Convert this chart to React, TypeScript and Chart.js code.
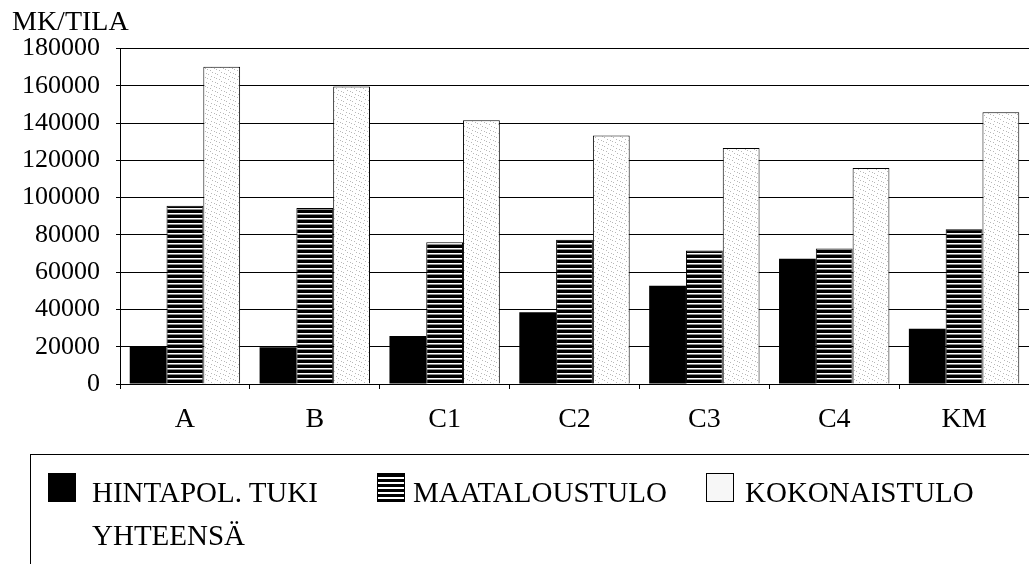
import React, { useEffect, useRef } from 'react';
import { Chart, registerables } from 'chart.js';

Chart.register(...registerables);

const categories = ['A', 'B', 'C1', 'C2', 'C3', 'C4', 'KM'];
const hintapolTuki = [19900, 19700, 25800, 38500, 52700, 67200, 29600];
const maataloustulo = [95600, 94400, 76100, 77400, 71600, 72700, 83100];
const kokonaistulo = [170300, 159600, 141500, 133400, 126600, 115900, 145800];
const yMin = 0;
const yMax = 180000;
const yStep = 20000;
const unitTitle = 'MK/TILA';
const seriesNames = ['HINTAPOL. TUKI YHTEENSÄ', 'MAATALOUSTULO', 'KOKONAISTULO'];

const FONT = '"Liberation Serif", "Times New Roman", Times, serif';

function makeStripes(): CanvasPattern | string {
  const c = document.createElement('canvas');
  c.width = 8;
  c.height = 5;
  const ctx = c.getContext('2d');
  if (!ctx) return '#333';
  ctx.fillStyle = '#000';
  ctx.fillRect(0, 0, 8, 5);
  ctx.fillStyle = '#fff';
  ctx.fillRect(0, 3, 8, 1);
  ctx.fillStyle = '#8a8a8a';
  ctx.fillRect(0, 4, 8, 1);
  return ctx.createPattern(c, 'repeat') || '#333';
}

function makeSpeckle(): CanvasPattern | string {
  const c = document.createElement('canvas');
  c.width = 9;
  c.height = 9;
  const ctx = c.getContext('2d');
  if (!ctx) return '#f2f2f2';
  ctx.fillStyle = '#fff';
  ctx.fillRect(0, 0, 9, 9);
  ctx.fillStyle = '#b8b8b8';
  const dots = [[1, 2], [5, 0], [7, 5], [3, 7], [0, 6], [4, 4], [8, 1]];
  dots.forEach(([x, y]) => ctx.fillRect(x, y, 1, 1));
  return ctx.createPattern(c, 'repeat') || '#f2f2f2';
}

export default function App() {
  const canvasRef = useRef<HTMLCanvasElement | null>(null);

  useEffect(() => {
    const canvas = canvasRef.current;
    if (!canvas) return;
    const chart = new Chart(canvas, {
      type: 'bar',
      data: {
        labels: categories,
        datasets: [
          {
            label: seriesNames[0],
            data: hintapolTuki,
            backgroundColor: '#000',
            borderWidth: 0,
          },
          {
            label: seriesNames[1],
            data: maataloustulo,
            backgroundColor: makeStripes() as any,
            borderColor: '#000',
            borderWidth: 1,
          },
          {
            label: seriesNames[2],
            data: kokonaistulo,
            backgroundColor: makeSpeckle() as any,
            borderColor: '#000',
            borderWidth: 1,
          },
        ],
      },
      options: {
        animation: false,
        responsive: false,
        maintainAspectRatio: false,
        devicePixelRatio: 1,
        layout: { padding: { left: 12, right: 0, top: 0, bottom: 0 } },
        datasets: {
          bar: { categoryPercentage: 0.85, barPercentage: 1 },
        },
        plugins: {
          legend: { display: false },
          tooltip: { enabled: false },
          title: {
            display: true,
            text: unitTitle,
            align: 'start',
            color: '#000',
            font: { family: FONT, size: 28, weight: 'normal' },
            padding: { top: 6, bottom: 9 },
          },
        },
        scales: {
          x: {
            afterFit: (scale: any) => {
              scale.height = 180;
            },
            grid: {
              display: true,
              offset: true,
              drawOnChartArea: false,
              drawTicks: true,
              tickLength: 5,
              color: '#000',
              lineWidth: 1,
            },
            border: { display: true, color: '#000', width: 1 },
            ticks: {
              color: '#000',
              padding: 14,
              font: { family: FONT, size: 28 },
              maxRotation: 0,
            },
          },
          y: {
            min: yMin,
            max: yMax,
            afterFit: (scale: any) => {
              scale.width = 108;
            },
            grid: {
              display: true,
              drawTicks: true,
              tickLength: 4,
              color: '#000',
              lineWidth: 1,
            },
            border: { display: true, color: '#000', width: 1 },
            ticks: {
              stepSize: yStep,
              color: '#000',
              padding: 16,
              font: { family: FONT, size: 26 },
              callback: (v: any) => String(v),
            },
          },
        },
      },
    });
    return () => chart.destroy();
  }, []);

  const textStyle: React.CSSProperties = {
    position: 'absolute',
    top: 471,
    fontFamily: FONT,
    fontSize: 29,
    lineHeight: '43px',
    color: '#000',
    whiteSpace: 'nowrap',
  };
  const swatch: React.CSSProperties = {
    position: 'absolute',
    top: 473,
    width: 28,
    height: 29,
    boxSizing: 'border-box',
  };

  return (
    <div
      style={{
        position: 'fixed',
        left: 0,
        top: 0,
        width: 1029,
        height: 564,
        overflow: 'hidden',
        background: '#fff',
      }}
    >
      <canvas
        ref={canvasRef}
        width={1029}
        height={564}
        style={{ position: 'absolute', left: 0, top: 0, width: 1029, height: 564 }}
      />
      <div
        style={{
          position: 'absolute',
          left: 30,
          top: 454,
          width: 1100,
          height: 200,
          border: '1px solid #000',
          boxSizing: 'border-box',
        }}
      />
      <div style={{ ...swatch, left: 48, background: '#000' }} />
      <div style={{ ...textStyle, left: 92 }}>
        HINTAPOL. TUKI
        <br />
        YHTEENSÄ
      </div>
      <div
        style={{
          ...swatch,
          left: 377,
          border: '1px solid #000',
          background: 'repeating-linear-gradient(to bottom, #000 0px, #000 3px, #fff 3px, #fff 5px)',
        }}
      />
      <div style={{ ...textStyle, left: 413 }}>{seriesNames[1]}</div>
      <div
        style={{
          ...swatch,
          left: 706,
          border: '1px solid #000',
          background: '#f7f7f7',
        }}
      />
      <div style={{ ...textStyle, left: 745 }}>{seriesNames[2]}</div>
    </div>
  );
}
